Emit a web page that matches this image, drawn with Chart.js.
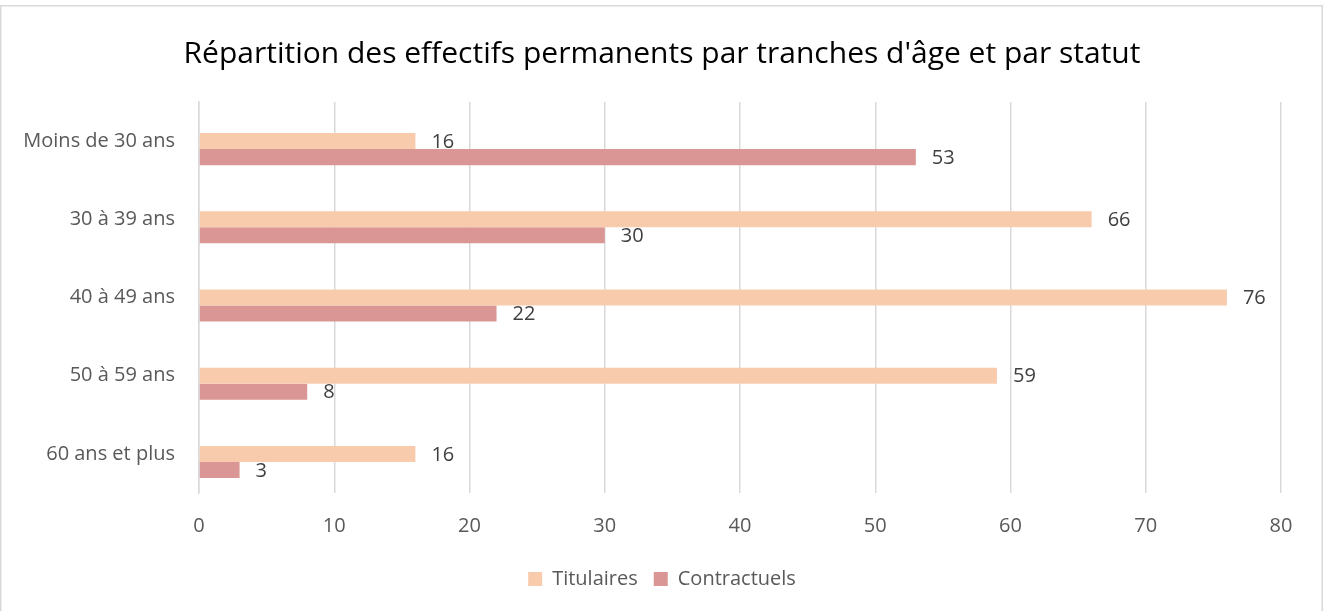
<!DOCTYPE html>
<html>
<head>
<meta charset="utf-8">
<script src="https://cdn.jsdelivr.net/npm/chart.js@4.4.0/dist/chart.umd.min.js"></script>
<style>
  html, body { margin: 0; padding: 0; background: #ffffff; }
  #wrap { position: relative; width: 1324px; height: 611px; }
</style>
</head>
<body>
<div id="wrap"><canvas id="c" width="1324" height="611"></canvas></div>
<script>
const categories = ["Moins de 30 ans", "30 à 39 ans", "40 à 49 ans", "50 à 59 ans", "60 ans et plus"];
const titulaires = [16, 66, 76, 59, 16];
const contractuels = [53, 30, 22, 8, 3];
const spacer = [null, null, null, null, null];
const xTicks = [0, 10, 20, 30, 40, 50, 60, 70, 80];
const chartTitle = "Répartition des effectifs permanents par tranches d'âge et par statut";

const FONT = "'Open Sans', 'Noto Sans', sans-serif";

const frameBorder = {
  id: 'frameBorder',
  beforeDraw(chart) {
    const ctx = chart.ctx;
    ctx.save();
    ctx.fillStyle = '#ffffff';
    ctx.fillRect(0, 0, chart.width, chart.height);
    ctx.strokeStyle = '#d9d9d9';
    ctx.lineWidth = 1.5;
    ctx.strokeRect(0.75, 5.75, chart.width - 2.5, chart.height + 10);
    ctx.restore();
  }
};

const valueLabels = {
  id: 'valueLabels',
  afterDatasetsDraw(chart) {
    const ctx = chart.ctx;
    ctx.save();
    ctx.font = "20px " + FONT;
    ctx.fillStyle = '#404040';
    ctx.textAlign = 'left';
    ctx.textBaseline = 'middle';
    chart.data.datasets.forEach((ds, i) => {
      if (ds.isSpacer) return;
      const meta = chart.getDatasetMeta(i);
      meta.data.forEach((bar, j) => {
        if (ds.data[j] == null) return;
        ctx.fillText(String(ds.data[j]), bar.x + 16, bar.y + 1);
      });
    });
    ctx.restore();
  }
};

const barCommon = { barPercentage: 1, categoryPercentage: 0.615 };

new Chart(document.getElementById('c'), {
  type: 'bar',
  data: {
    labels: categories,
    datasets: [
      Object.assign({ label: '', data: spacer, backgroundColor: 'rgba(0,0,0,0)', isSpacer: true }, barCommon),
      Object.assign({ label: 'Titulaires', data: titulaires, backgroundColor: '#f8cbad' }, barCommon),
      Object.assign({ label: 'Contractuels', data: contractuels, backgroundColor: '#da9694' }, barCommon)
    ]
  },
  options: {
    indexAxis: 'y',
    responsive: false,
    animation: false,
    devicePixelRatio: 1,
    layout: { padding: { left: 0, right: 0, top: 0, bottom: 12 } },
    plugins: {
      title: {
        display: true,
        text: chartTitle,
        color: '#000000',
        font: { family: FONT, size: 30, weight: 'normal' },
        padding: { top: 36, bottom: 30 }
      },
      legend: {
        position: 'bottom',
        labels: {
          color: '#595959',
          font: { family: FONT, size: 20 },
          boxWidth: 14,
          boxHeight: 14,
          padding: 16,
          filter: (item) => item.datasetIndex !== 0
        }
      },
      tooltip: { enabled: false }
    },
    scales: {
      x: {
        min: 0,
        max: 80,
        afterBuildTicks(scale) { scale.ticks = xTicks.map(v => ({ value: v })); },
        afterFit(scale) { scale.height = 60; },
        grid: { color: '#d9d9d9', lineWidth: 1.5, drawTicks: false },
        border: { display: false },
        ticks: { color: '#595959', font: { family: FONT, size: 20 }, padding: 21 }
      },
      y: {
        afterFit(scale) { scale.width = 199; },
        grid: { display: false },
        border: { display: true, color: '#d9d9d9', width: 1.5 },
        ticks: { color: '#595959', font: { family: FONT, size: 20 }, padding: 16 }
      },
      yRightMargin: {
        type: 'linear',
        position: 'right',
        display: true,
        afterFit(scale) { scale.width = 43; },
        grid: { display: false },
        border: { display: false },
        ticks: { display: false }
      }
    }
  },
  plugins: [frameBorder, valueLabels]
});
</script>
</body>
</html>
